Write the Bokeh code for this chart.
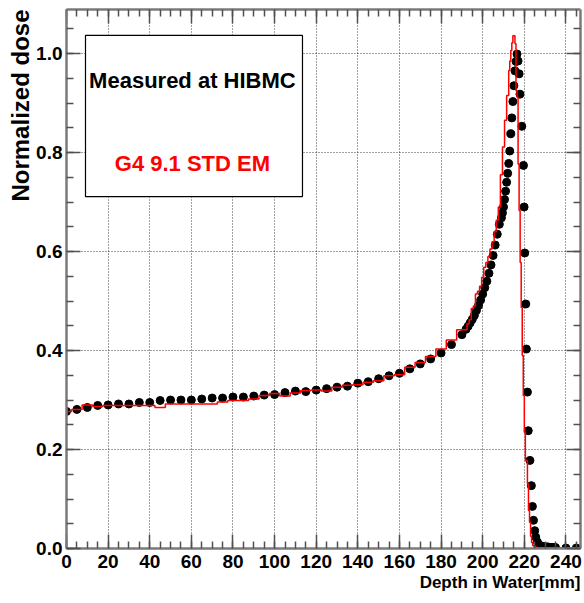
from bokeh.plotting import figure
from bokeh.models import (LinearAxis, SingleIntervalTicker, PrintfTickFormatter,
                          Label, BoxAnnotation, Range1d, Grid, Title)
from bokeh.embed import file_html
from bokeh.resources import INLINE

# ---------------- data ----------------
# Measured depth-dose (HIBMC), depth in mm
meas_depth = [0, 5, 10, 15, 20, 25, 30, 35, 40, 45, 50, 55, 60, 65, 70, 75, 80, 85, 90, 95,
              100, 105, 110, 115, 120, 125, 130, 135, 140, 145, 150, 155, 160, 165, 170, 175,
              180, 185, 190,
              192, 193, 194, 195, 196, 197, 198, 199, 200, 201, 202, 203, 204, 205, 206, 207, 208,
              209.0, 209.5, 210.0, 210.5, 211.0, 211.5, 212.0, 212.5, 213.0, 213.5, 214.0, 214.5,
              215.0, 215.5, 216.0, 216.5, 217.0, 217.5, 217.9, 218.8, 219.6, 219.9, 220.2, 220.7,
              221.0, 221.5, 221.9, 222.7, 223.4, 223.9, 224.4, 225.0, 225.5, 226.3,
              227.0, 227.5, 228.0, 228.5, 229.0, 229.5, 230.0, 230.5, 231.0, 231.5, 232.0, 232.5,
              233.0, 233.5, 234.0, 234.5, 235.0, 240.0, 245.0]
meas_dose = [0.277, 0.281, 0.285, 0.289, 0.290, 0.292, 0.292, 0.295, 0.295, 0.299, 0.300, 0.300,
             0.300, 0.302, 0.304, 0.304, 0.306, 0.306, 0.308, 0.310, 0.311, 0.315, 0.318, 0.317,
             0.320, 0.323, 0.326, 0.328, 0.334, 0.337, 0.343, 0.349, 0.354, 0.363, 0.373, 0.383,
             0.395, 0.412, 0.432,
             0.443, 0.449, 0.456, 0.463, 0.471, 0.481, 0.491, 0.502, 0.514, 0.527, 0.540, 0.556,
             0.573, 0.592, 0.613, 0.635, 0.655,
             0.668, 0.678, 0.690, 0.705, 0.722, 0.740, 0.758, 0.778, 0.803, 0.838, 0.870, 0.903,
             0.935, 0.965, 0.984, 0.999, 0.985, 0.959, 0.918, 0.853, 0.774, 0.690, 0.597, 0.494,
             0.403, 0.316, 0.238, 0.178, 0.127, 0.085, 0.057, 0.036, 0.023, 0.013,
             0.008, 0.006, 0.005, 0.004, 0.004, 0.003, 0.003, 0.003, 0.003, 0.003, 0.002, 0.002,
             0.002, 0.002, 0.002, 0.002, 0.002, 0.001, 0.001]

# Geant4 9.1 standard EM simulation, histogram bin edges (mm) and contents
g4_edges = ([0.0] + [2.5 + 5 * k for k in range(39)]                       # 5 mm bins up to 192.5
            + [193.5 + k for k in range(20)]                                  # 1 mm bins up to 212.5
            + [213.0 + 0.5 * k for k in range(24)]                            # 0.5 mm bins up to 224.5
            + [225.5, 226.5, 247.0])
g4_dose = [0.277, 0.281, 0.290, 0.287, 0.289, 0.289, 0.289, 0.289, 0.289, 0.285,
           0.292, 0.292, 0.292, 0.292, 0.292, 0.296, 0.299, 0.299, 0.302, 0.309,
           0.313, 0.308, 0.314, 0.319, 0.320, 0.318, 0.326, 0.330, 0.331, 0.336,
           0.339, 0.349, 0.351, 0.366, 0.376, 0.388, 0.403, 0.4215, 0.442,
           0.454, 0.462, 0.485, 0.490, 0.514, 0.520, 0.530, 0.548, 0.568, 0.578,
           0.590, 0.605, 0.620, 0.640, 0.663, 0.690, 0.755, 0.811, 0.865, 0.915,
           0.966, 0.985, 1.006, 1.022, 1.036, 1.036, 1.020, 0.925, 0.912, 0.777,
           0.683, 0.578, 0.487, 0.390, 0.309, 0.235, 0.178, 0.178, 0.131, 0.077,
           0.053, 0.025, 0.012, 0.006,
           0.004, 0.002, 0.001]

x_ticks_interval = 20
y_ticks_interval = 0.2
legend_title = "Measured at HIBMC"
legend_sim = "G4 9.1 STD EM"
x_title = "Depth in Water[mm]"
y_title = "Normalized dose"

# ---------------- figure ----------------
FONT = "Liberation Sans"

p = figure(width=584, height=603, x_range=Range1d(0, 247), y_range=Range1d(0, 1.089),
           output_backend="svg", toolbar_location=None,
           x_axis_location=None, y_axis_location=None,
           min_border_left=66, min_border_right=4, min_border_top=9, min_border_bottom=55,
           background_fill_color="white", border_fill_color="white",
           outline_line_color=None)
# drop the default grids; dotted grids on the ROOT-like ticks are added below
p.grid.grid_line_color = None

xt = SingleIntervalTicker(interval=x_ticks_interval, num_minor_ticks=4)
yt = SingleIntervalTicker(interval=y_ticks_interval, num_minor_ticks=4)


def style_axis(ax, show_labels):
    ax.axis_line_color = "#7a7a7a"
    ax.axis_line_width = 2.5
    ax.major_tick_line_color = "#505050"
    ax.minor_tick_line_color = "#505050"
    ax.major_tick_line_width = 1.5
    ax.minor_tick_line_width = 1.5
    ax.major_tick_in = 14
    ax.major_tick_out = 0
    ax.minor_tick_in = 7
    ax.minor_tick_out = 0
    if show_labels:
        ax.major_label_text_font = FONT
        ax.major_label_text_font_style = "bold"
        ax.major_label_text_font_size = "19px"
        ax.major_label_text_color = "black"
    else:
        ax.major_label_text_font_size = "1px"
        ax.major_label_text_color = None
        ax.major_label_standoff = 0


bottom = LinearAxis(ticker=xt)
style_axis(bottom, True)
bottom.major_label_standoff = 6
p.add_layout(bottom, "below")

left = LinearAxis(ticker=yt, formatter=PrintfTickFormatter(format="%.1f"))
style_axis(left, True)
left.major_label_standoff = 4
p.add_layout(left, "left")

top = LinearAxis(ticker=xt)
style_axis(top, False)
p.add_layout(top, "above")

right = LinearAxis(ticker=yt)
style_axis(right, False)
p.add_layout(right, "right")

for dim, tk in ((0, xt), (1, yt)):
    g = Grid(dimension=dim, ticker=tk, grid_line_color="black", grid_line_alpha=0.75,
             grid_line_dash="1 2", grid_line_width=1)
    p.add_layout(g)

# axis titles (placed at the far end of each axis)
p.add_layout(Title(text=x_title, align="right", text_font=FONT, text_font_style="bold",
                   text_font_size="17px", text_color="black", standoff=0), "below")
p.add_layout(Title(text=y_title, align="right", text_font=FONT, text_font_style="bold",
                   text_font_size="24px", text_color="black", standoff=0), "left")

# measured points
p.scatter(meas_depth, meas_dose, marker="circle", size=8, color="black")

# simulation histogram
p.step(g4_edges, g4_dose + [g4_dose[-1]], mode="after", line_color="red", line_width=1.5)

# legend-like box
p.add_layout(BoxAnnotation(left=9.13, right=113.4, bottom=0.711, top=1.0366,
                           fill_color="white", fill_alpha=1.0,
                           line_color="black", line_alpha=1.0, line_width=1.2))
p.add_layout(Label(x=60.5, y=0.9456, text=legend_title, text_align="center",
                   text_baseline="middle", text_font=FONT, text_font_style="bold",
                   text_font_size="22px", text_color="black"))
p.add_layout(Label(x=60.5, y=0.778, text=legend_sim, text_align="center",
                   text_baseline="middle", text_font=FONT, text_font_style="bold",
                   text_font_size="22px", text_color="red"))

open("out.html", "w").write(file_html(p, INLINE))
